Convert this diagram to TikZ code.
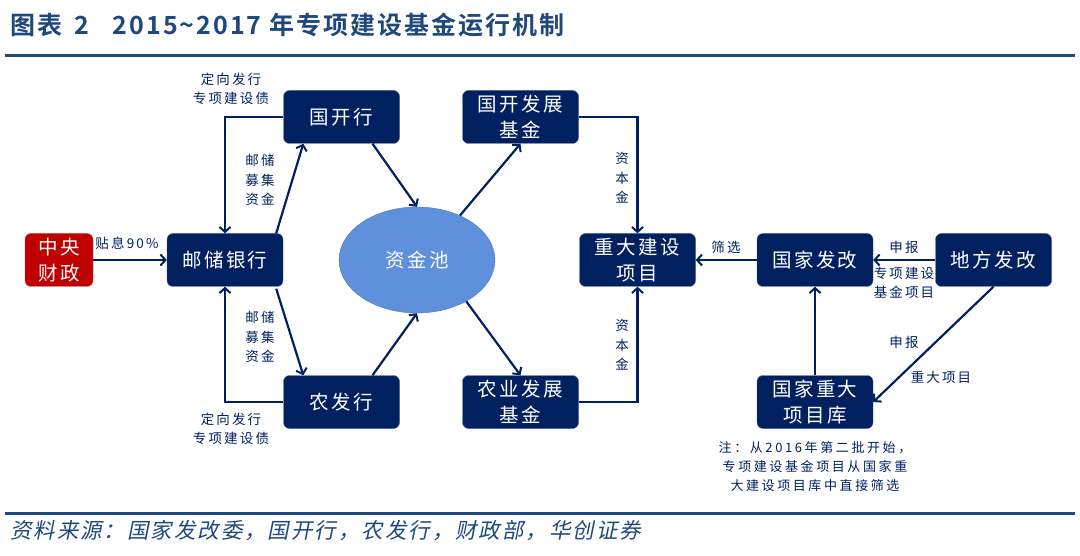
\documentclass[tikz,border=0pt]{standalone}
\usepackage{fontspec}
\setmainfont{Noto Sans CJK SC}
\newfontfamily\srcfont[FakeSlant=0.2,LetterSpace=9]{Noto Sans CJK SC}
\newfontfamily\boxfont[LetterSpace=12]{Noto Sans CJK SC}
\newfontfamily\lblfont[LetterSpace=16]{Noto Sans CJK SC}
\newfontfamily\notefont[LetterSpace=20]{Noto Sans CJK SC}
\newfontfamily\ttlfont[LetterSpace=8]{Noto Sans CJK SC Bold}
\usetikzlibrary{arrows.meta,calc,positioning,shapes.geometric}

\definecolor{navy}{RGB}{0,32,96}
\definecolor{ttlblue}{RGB}{31,73,125}
\definecolor{darkred}{RGB}{192,0,0}
\definecolor{pool}{RGB}{95,144,220}

\begin{document}
\begin{tikzpicture}[
		x=1pt, y=-1pt,
		arr/.style={draw=navy, line width=2.2pt, -{Straight Barb[length=5pt,width=11pt,line width=2pt]}},
		blk/.style={
			draw=navy!70, fill=navy, rounded corners=6pt, text=white,
			minimum width=116pt, minimum height=53pt, inner sep=1pt, align=center,
			font=\boxfont\fontsize{19.5}{26}\selectfont
		},
		lbl/.style={text=navy, align=center, inner sep=0pt, font=\lblfont\fontsize{13.5}{19.5}\selectfont}
		]
		\useasboundingbox (0,0) rectangle (1080,556);
		% ---- Titel und Linien
		\node[anchor=west, text=ttlblue, inner sep=0pt, font=\ttlfont\fontsize{25}{28}\selectfont] (title) at (10,25)
			{图表\hspace{12pt}2\hspace{24pt}2015\char`\~2017 年专项建设基金运行机制};
		\draw[ttlblue, line width=3pt] (5,56) -- (1075,56);
		\draw[ttlblue, line width=3pt] (5,513) -- (1075,513);
		\node[anchor=west, text=ttlblue, inner sep=0pt, font=\srcfont\fontsize{21.5}{24}\selectfont] (src) at (10,531)
			{资料来源：国家发改委，国开行，农发行，财政部，华创证券};

		% ---- Knoten
		\node[blk, fill=darkred, draw=darkred!70, minimum width=68pt] (czf) at (59,260) {中央\\财政};
		\node[blk] (yc)    at (225,260)   {邮储银行};
		\node[blk] (gkh)   at (341.5,117) {国开行};
		\node[blk] (nfh)   at (341.5,402) {农发行};
		\node[ellipse, draw=pool!85!black, fill=pool, text=white, minimum width=156pt, minimum height=106pt,
			font=\boxfont\fontsize{19.5}{24}\selectfont] (pl) at (417,260) {资金池};
		\node[blk] (gkjj)  at (520.5,117) {国开发展\\基金};
		\node[blk] (nyjj)  at (520.5,402) {农业发展\\基金};
		\node[blk] (zdxm)  at (637.5,260) {重大建设\\项目};
		\node[blk] (gjfg)  at (815,260)   {国家发改};
		\node[blk] (dffg)  at (993.5,260) {地方发改};
		\node[blk] (xmk)   at (815,402)   {国家重大\\项目库};

		% ---- Pfeile links
		\draw[arr] (czf) -- (yc);
		\draw[arr] (gkh.west) -| (yc.north);
		\draw[arr] (nfh.west) -| (yc.south);
		\draw[arr] ($(yc.north east)+(-7,0)$) -- ($(gkh.south west)+(20,0)$);
		\draw[arr] ($(yc.south east)+(-7,2)$) -- ($(nfh.north west)+(20,0)$);

		% ---- Pfeile um den Pool
		\draw[arr] ($(gkh.south)+(31,0)$) -- (pl.north);
		\draw[arr] ($(nfh.north)+(31,0)$) -- (pl.south);
		\draw[arr] (pl.46) -- (gkjj.south);
		\draw[arr] (pl.-40) -- (nyjj.north);

		% ---- Pfeile rechts
		\draw[arr] (gkjj.east) -| (zdxm.north);
		\draw[arr] (nyjj.east) -| (zdxm.south);
		\draw[arr] (gjfg) -- (zdxm);
		\draw[arr] (dffg) -- (gjfg);
		\draw[arr] (xmk) -- (gjfg);
		\draw[arr] (dffg.south) -- (xmk.east);

		% ---- Beschriftungen
		\node[lbl] (l1)  at (127,243)   {贴息90\%};
		\node[lbl] (l2)  at (231,89)    {定向发行\\专项建设债};
		\node[lbl] (l3)  at (260,180)   {邮储\\募集\\资金};
		\node[lbl] (l4)  at (260,337)   {邮储\\募集\\资金};
		\node[lbl] (l5)  at (231,429)   {定向发行\\专项建设债};
		\node[lbl] (l6)  at (622,178)   {资\\本\\金};
		\node[lbl] (l7)  at (622,345)   {资\\本\\金};
		\node[lbl] (l8)  at (726,247)   {筛选};
		\node[lbl] (l9)  at (904,247)   {申报};
		\node[lbl] (l10) at (904,283)   {专项建设\\基金项目};
		\node[lbl] (l11) at (904,342)   {申报};
		\node[lbl] (l12) at (941,377)   {重大项目};
		\node[lbl, font=\notefont\fontsize{13}{19}\selectfont] (note) at (815,467)
			{注：从2016年第二批开始，\\专项建设基金项目从国家重\\大建设项目库中直接筛选};
\end{tikzpicture}
\end{document}
